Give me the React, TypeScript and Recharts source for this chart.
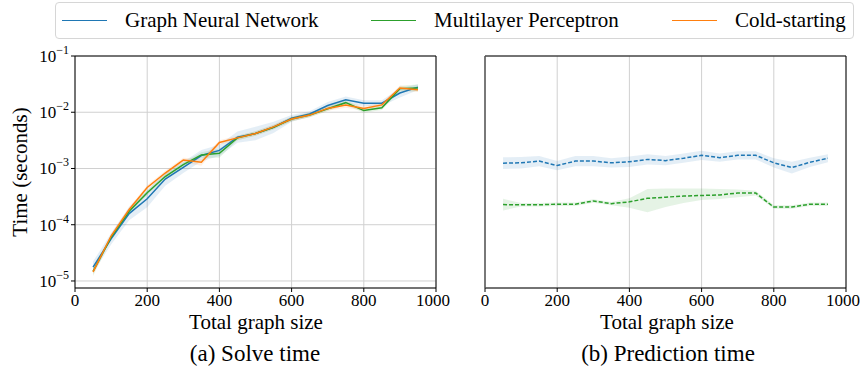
import React from 'react';
import { ComposedChart, Line, Area, XAxis, YAxis, CartesianGrid, ReferenceLine } from 'recharts';

const sizes = [50, 100, 150, 200, 250, 300, 350, 400, 450, 500, 550, 600, 650, 700, 750, 800, 850, 900, 950];

// solve time (seconds)
const gnnSolve = [1.76e-5, 5.6e-5, 1.58e-4, 2.9e-4, 6.5e-4, 1.05e-3, 1.7e-3, 2.1e-3, 3.6e-3, 4.2e-3, 5.4e-3, 7.8e-3, 9.3e-3, 1.32e-2, 1.66e-2, 1.45e-2, 1.45e-2, 2.2e-2, 2.8e-2];
const mlpSolve = [1.48e-5, 6.0e-5, 1.74e-4, 3.7e-4, 7.2e-4, 1.17e-3, 1.74e-3, 1.86e-3, 3.5e-3, 4.2e-3, 5.4e-3, 7.6e-3, 8.9e-3, 1.15e-2, 1.48e-2, 1.07e-2, 1.2e-2, 2.63e-2, 2.7e-2];
const coldSolve = [1.45e-5, 6.3e-5, 1.86e-4, 4.6e-4, 8.3e-4, 1.41e-3, 1.29e-3, 2.9e-3, 3.5e-3, 4.2e-3, 5.5e-3, 7.6e-3, 8.9e-3, 1.17e-2, 1.35e-2, 1.17e-2, 1.35e-2, 2.7e-2, 2.5e-2];

// band half-widths in decades
const gnnSolveSpread = [0.1, 0.1, 0.12, 0.15, 0.12, 0.1, 0.1, 0.1, 0.1, 0.12, 0.1, 0.06, 0.05, 0.06, 0.06, 0.05, 0.05, 0.08, 0.05];
const mlpSolveSpread = [0.08, 0.04, 0.04, 0.04, 0.04, 0.04, 0.05, 0.08, 0.04, 0.04, 0.04, 0.04, 0.04, 0.04, 0.04, 0.04, 0.04, 0.05, 0.06];
const coldSolveSpread = [0.04, 0.04, 0.04, 0.04, 0.04, 0.04, 0.06, 0.04, 0.04, 0.04, 0.04, 0.04, 0.04, 0.04, 0.05, 0.04, 0.04, 0.04, 0.04];

// prediction time (seconds)
const gnnPred = [1.43e-3, 1.45e-3, 1.55e-3, 1.3e-3, 1.55e-3, 1.55e-3, 1.45e-3, 1.51e-3, 1.66e-3, 1.58e-3, 1.74e-3, 1.95e-3, 1.78e-3, 1.95e-3, 1.95e-3, 1.45e-3, 1.2e-3, 1.48e-3, 1.74e-3];
const mlpPred = [2.77e-4, 2.75e-4, 2.75e-4, 2.82e-4, 2.82e-4, 3.2e-4, 2.88e-4, 3.09e-4, 3.55e-4, 3.72e-4, 3.89e-4, 3.98e-4, 4.07e-4, 4.37e-4, 4.37e-4, 2.51e-4, 2.51e-4, 2.82e-4, 2.82e-4];
const gnnPredSpread = [0.1, 0.1, 0.09, 0.08, 0.09, 0.09, 0.08, 0.09, 0.09, 0.08, 0.08, 0.08, 0.07, 0.07, 0.07, 0.08, 0.1, 0.08, 0.07];
const mlpPredUp = [0.1, 0.03, 0.03, 0.03, 0.03, 0.03, 0.03, 0.06, 0.16, 0.15, 0.13, 0.12, 0.1, 0.06, 0.04, 0.03, 0.03, 0.03, 0.03];
const mlpPredDown = [0.1, 0.03, 0.03, 0.03, 0.03, 0.03, 0.03, 0.1, 0.24, 0.17, 0.12, 0.08, 0.07, 0.07, 0.04, 0.03, 0.03, 0.03, 0.03];

const xTicks = [0, 200, 400, 600, 800, 1000];
const solveTicks = [1e-5, 1e-4, 1e-3, 1e-2, 1e-1];
const predTicks = [1e-4, 1e-3, 1e-2];

const BLUE = '#1f77b4';
const GREEN = '#2ca02c';
const ORANGE = '#ff7f0e';
const FONT = "'Liberation Serif', 'Times New Roman', 'DejaVu Serif', serif";

const band = (v: number, up: number, down: number) => [v / Math.pow(10, down), v * Math.pow(10, up)];

const solveData = sizes.map((s, i) => ({
  size: s,
  gnn: gnnSolve[i],
  mlp: mlpSolve[i],
  cold: coldSolve[i],
  gnnBand: band(gnnSolve[i], gnnSolveSpread[i], gnnSolveSpread[i]),
  mlpBand: band(mlpSolve[i], mlpSolveSpread[i], mlpSolveSpread[i]),
  coldBand: band(coldSolve[i], coldSolveSpread[i], coldSolveSpread[i]),
}));

const predData = sizes.map((s, i) => ({
  size: s,
  gnn: gnnPred[i],
  mlp: mlpPred[i],
  gnnBand: band(gnnPred[i], gnnPredSpread[i], gnnPredSpread[i]),
  mlpBand: band(mlpPred[i], mlpPredUp[i], mlpPredDown[i]),
}));

const LogTick = (props: any) => {
  const { x, y, payload } = props;
  const e = Math.round(Math.log10(payload.value));
  return (
    <text x={x} y={y} dy={6} textAnchor="end" style={{ fontFamily: FONT }} fontSize={17} fill="#000">
      <tspan>10</tspan>
      <tspan dy={-8} fontSize={12}>{'\u2212' + -e}</tspan>
    </text>
  );
};

const tickStyle = { fill: '#000', fontSize: 17, style: { fontFamily: FONT } };

const LegendItem = ({ color, label, left }: { color: string; label: string; left: number }) => (
  <div style={{ position: 'absolute', left, top: 0, height: 35, display: 'flex', alignItems: 'center' }}>
    <div style={{ width: 45, height: 0, borderTop: `1.5px solid ${color}`, marginRight: 18 }} />
    <span style={{ fontSize: 21, fontFamily: FONT, color: '#000', whiteSpace: 'nowrap' }}>{label}</span>
  </div>
);

const Caption = ({ text, cx, top, size }: { text: string; cx: number; top: number; size: number }) => (
  <div style={{ position: 'absolute', left: cx - 150, width: 300, top, textAlign: 'center', fontSize: size, fontFamily: FONT, color: '#000', lineHeight: 1 }}>
    {text}
  </div>
);

export default function App() {
  return (
    <div style={{ position: 'absolute', left: 0, top: 0, width: 867, height: 373, background: '#fff', overflow: 'hidden', fontFamily: FONT }}>
      <div style={{ position: 'absolute', left: 55, top: 2, width: 797, height: 35, border: '1px solid #d6d6d6', borderRadius: 4 }}>
        <LegendItem color={BLUE} label="Graph Neural Network" left={6} />
        <LegendItem color={GREEN} label="Multilayer Perceptron" left={315} />
        <LegendItem color={ORANGE} label="Cold-starting" left={616} />
      </div>

      <div style={{ position: 'absolute', left: 0, top: 0 }}>
        <ComposedChart width={450} height={318} data={solveData} margin={{ top: 56, right: 14, left: 15, bottom: 0 }}>
          <CartesianGrid stroke="#d0d0d0" strokeWidth={1} horizontal vertical />
          <XAxis dataKey="size" type="number" domain={[0, 1000]} ticks={xTicks} height={30}
            tick={tickStyle} tickLine={{ stroke: '#000' }} tickSize={4} axisLine={{ stroke: '#000' }} />
          <YAxis type="number" scale="log" domain={[7.5e-6, 0.1]} ticks={solveTicks} allowDataOverflow width={60}
            tick={<LogTick />} tickLine={{ stroke: '#000' }} tickSize={4} axisLine={{ stroke: '#000' }} />
          <ReferenceLine y={0.1} stroke="#000" />
          <ReferenceLine x={1000} stroke="#000" />
          <Area dataKey="gnnBand" stroke="none" fill={BLUE} fillOpacity={0.12} isAnimationActive={false} />
          <Area dataKey="mlpBand" stroke="none" fill={GREEN} fillOpacity={0.12} isAnimationActive={false} />
          <Area dataKey="coldBand" stroke="none" fill={ORANGE} fillOpacity={0.12} isAnimationActive={false} />
          <Line dataKey="gnn" stroke={BLUE} strokeWidth={1.5} dot={false} isAnimationActive={false} />
          <Line dataKey="mlp" stroke={GREEN} strokeWidth={1.5} dot={false} isAnimationActive={false} />
          <Line dataKey="cold" stroke={ORANGE} strokeWidth={1.5} dot={false} isAnimationActive={false} />
        </ComposedChart>
      </div>

      <div style={{ position: 'absolute', left: 470, top: 0 }}>
        <ComposedChart width={390} height={318} data={predData} margin={{ top: 56, right: 14, left: 0, bottom: 0 }}>
          <CartesianGrid stroke="#d0d0d0" strokeWidth={1} horizontal vertical />
          <XAxis dataKey="size" type="number" domain={[0, 1000]} ticks={xTicks} height={30}
            tick={tickStyle} tickLine={{ stroke: '#000' }} tickSize={4} axisLine={{ stroke: '#000' }} />
          <YAxis type="number" scale="log" domain={[1.02e-5, 0.0995]} ticks={predTicks} allowDataOverflow width={15}
            tick={false} tickLine={{ stroke: '#000' }} tickSize={4} axisLine={{ stroke: '#555', strokeWidth: 1.5 }} />
          <ReferenceLine y={0.0995} stroke="#000" />
          <ReferenceLine x={1000} stroke="#000" />
          <Area dataKey="gnnBand" stroke="none" fill={BLUE} fillOpacity={0.12} isAnimationActive={false} />
          <Area dataKey="mlpBand" stroke="none" fill={GREEN} fillOpacity={0.12} isAnimationActive={false} />
          <Line dataKey="gnn" stroke={BLUE} strokeWidth={1.5} strokeDasharray="4 2" dot={false} isAnimationActive={false} />
          <Line dataKey="mlp" stroke={GREEN} strokeWidth={1.5} strokeDasharray="4 2" dot={false} isAnimationActive={false} />
        </ComposedChart>
      </div>

      <div style={{ position: 'absolute', left: 20, top: 172, width: 0, height: 0 }}>
        <div style={{ position: 'absolute', left: -100, top: -12, width: 200, textAlign: 'center', transform: 'rotate(-90deg)', fontSize: 21, fontFamily: FONT, lineHeight: '24px' }}>
          Time (seconds)
        </div>
      </div>

      <Caption text="Total graph size" cx={256} top={312} size={21} />
      <Caption text="Total graph size" cx={667} top={312} size={21} />
      <Caption text="(a) Solve time" cx={255} top={342} size={23} />
      <Caption text="(b) Prediction time" cx={668} top={342} size={23} />
    </div>
  );
}
